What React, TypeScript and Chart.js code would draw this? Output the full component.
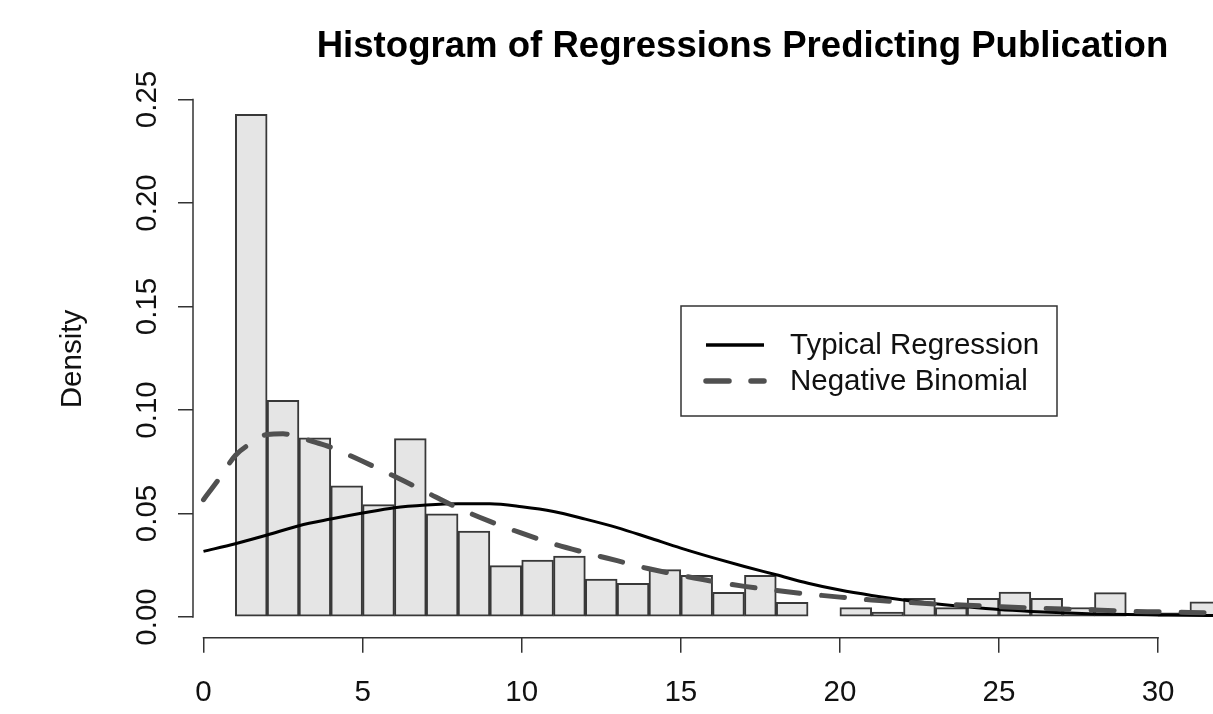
import React, { useEffect, useRef } from "react";
import { Chart, registerables } from "chart.js";

Chart.register(...registerables);

// ---- data ----
const binStarts = [1, 2, 3, 4, 5, 6, 7, 8, 9, 10, 11, 12, 13, 14, 15, 16, 17, 18, 19, 20, 21, 22, 23, 24, 25, 26, 27, 28, 29, 30, 31];
const binDensity = [
  0.2428, 0.1047, 0.0865, 0.0634, 0.0543, 0.0862, 0.0498, 0.0415, 0.0248, 0.0275,
  0.0294, 0.0183, 0.0163, 0.0229, 0.0201, 0.0119, 0.0201, 0.0071, 0.0, 0.0045,
  0.0024, 0.0090, 0.0045, 0.0090, 0.0120, 0.0090, 0.0046, 0.0118, 0.0, 0.0020, 0.0073,
];

const typicalX = [0, 1, 2, 3, 4, 5, 6, 7, 8, 9, 10, 11, 12, 13, 14, 15, 16, 17, 18, 19, 20, 21, 22, 23, 24, 25, 26, 27, 28, 29, 30, 31, 32];
const typicalY = [
  0.0317, 0.0354, 0.0396, 0.0441, 0.0473, 0.0502, 0.0528, 0.0541, 0.0547, 0.0547,
  0.0533, 0.0510, 0.0473, 0.0432, 0.0383, 0.0333, 0.0287, 0.0244, 0.0204, 0.0163,
  0.0130, 0.0104, 0.0082, 0.0064, 0.0049, 0.0036, 0.0027, 0.0020, 0.0015, 0.0012,
  0.0010, 0.0008, 0.0007,
];

const negbinX = [0, 0.5, 1, 1.5, 2, 2.5, 3, 3.5, 4, 5, 6, 7, 8, 9, 10, 11, 12, 13, 14, 15, 16, 17, 18, 19, 20, 21, 22, 23, 24, 25, 26, 27, 28, 29, 30, 31, 32];
const negbinY = [
  0.0567, 0.0670, 0.0780, 0.0840, 0.0882, 0.0885, 0.0868, 0.0845, 0.0820, 0.0752,
  0.0680, 0.0603, 0.0527, 0.0462, 0.0405, 0.0353, 0.0311, 0.0272, 0.0233, 0.0201,
  0.0172, 0.0148, 0.0128, 0.0111, 0.0096, 0.0082, 0.0072, 0.0063, 0.0057, 0.0050,
  0.0044, 0.0039, 0.0034, 0.0028, 0.0025, 0.0022, 0.0020,
];

const xTicks = [0, 5, 10, 15, 20, 25, 30];
const yTicks = [0, 0.05, 0.1, 0.15, 0.2, 0.25];
const seriesLabels = ["Typical Regression", "Negative Binomial"];
const titleText = "Histogram of Regressions Predicting Publication";
const yTitle = "Density";

const FONT = "'Liberation Sans', Arial, Helvetica, sans-serif";
const AXIS_COLOR = "#333333";
const TEXT_SIZE = 29.5;

// R-style axis lines that span only the tick range
const rAxesPlugin = {
  id: "rAxes",
  afterDraw(chart: any) {
    const { ctx, chartArea, scales } = chart;
    const xs = scales.x;
    const ys = scales.y;
    ctx.save();
    ctx.strokeStyle = AXIS_COLOR;
    ctx.lineWidth = 1.5;
    ctx.lineCap = "butt";
    ctx.beginPath();
    const yb = chartArea.bottom;
    ctx.moveTo(xs.getPixelForValue(xTicks[0]) - 0.75, yb);
    ctx.lineTo(xs.getPixelForValue(xTicks[xTicks.length - 1]) + 0.75, yb);
    const xl = chartArea.left;
    ctx.moveTo(xl, ys.getPixelForValue(yTicks[0]) + 0.75);
    ctx.lineTo(xl, ys.getPixelForValue(yTicks[yTicks.length - 1]) - 0.75);
    ctx.stroke();
    ctx.restore();
  },
};

// boxed legend inside the plot, R legend() style
const boxLegendPlugin = {
  id: "boxLegend",
  afterDraw(chart: any) {
    const { ctx } = chart;
    const box = { x: 681, y: 306, w: 376, h: 110 };
    ctx.save();
    ctx.fillStyle = "#ffffff";
    ctx.fillRect(box.x, box.y, box.w, box.h);
    ctx.strokeStyle = AXIS_COLOR;
    ctx.lineWidth = 1.5;
    ctx.strokeRect(box.x, box.y, box.w, box.h);
    const rows = [345, 381];
    seriesLabels.forEach((label, i) => {
      const ds = chart.data.datasets.find((d: any) => d.label === label);
      if (!ds) return;
      const yy = rows[i];
      ctx.save();
      ctx.strokeStyle = ds.borderColor;
      ctx.lineWidth = ds.borderWidth + 0.5;
      ctx.lineCap = ds.borderCapStyle || "butt";
      ctx.setLineDash(ds.borderDash || []);
      ctx.beginPath();
      ctx.moveTo(706, yy);
      ctx.lineTo(764, yy);
      ctx.stroke();
      ctx.restore();
      ctx.fillStyle = "#111111";
      ctx.font = `${TEXT_SIZE}px ${FONT}`;
      ctx.textAlign = "left";
      ctx.textBaseline = "middle";
      ctx.fillText(label, 790, yy + 1);
    });
    ctx.restore();
  },
};

export default function App() {
  const canvasRef = useRef<HTMLCanvasElement | null>(null);

  useEffect(() => {
    if (!canvasRef.current) return;
    const pxPerX = 31.82;
    const x0px = 203.5;
    const left = 193;
    const right = 1292;
    const xMin = (left - x0px) / pxPerX;
    const xMax = (right - x0px) / pxPerX;

    const pxPerY = 2070;
    const bottom = 637.7;
    const top = 80.4;
    const yMin = -0.01;
    const yMax = yMin + (bottom - top) / pxPerY;
    const titleSize = 36.6;
    const titleLine = titleSize * 1.2;
    const titlePadTop = 25;

    const chart = new Chart(canvasRef.current, {
      type: "line",
      data: {
        datasets: [
          {
            type: "line",
            label: seriesLabels[1],
            data: negbinX.map((x, i) => ({ x, y: negbinY[i] })),
            borderColor: "#505050",
            borderWidth: 5,
            borderDash: [23, 22],
            borderCapStyle: "round",
            pointRadius: 0,
            fill: false,
            cubicInterpolationMode: "monotone",
            order: 0,
          } as any,
          {
            type: "line",
            label: seriesLabels[0],
            data: typicalX.map((x, i) => ({ x, y: typicalY[i] })),
            borderColor: "#000000",
            borderWidth: 3,
            pointRadius: 0,
            fill: false,
            cubicInterpolationMode: "monotone",
            order: 1,
          } as any,
          {
            type: "bar",
            label: "Histogram",
            data: binStarts.map((s, i) => ({ x: s + 0.5, y: binDensity[i] })),
            backgroundColor: "#e5e5e5",
            borderColor: "#383838",
            borderWidth: 2,
            borderSkipped: false,
            barPercentage: 1,
            categoryPercentage: 1,
            grouped: false,
            order: 2,
          } as any,
        ],
      },
      options: {
        animation: false,
        responsive: false,
        maintainAspectRatio: false,
        devicePixelRatio: 1,
        layout: { padding: 0 },
        events: [],
        plugins: {
          legend: { display: false },
          tooltip: { enabled: false },
          title: {
            display: true,
            text: titleText,
            fullSize: false,
            color: "#000000",
            font: { family: FONT, size: titleSize, weight: "bold" },
            padding: { top: titlePadTop, bottom: top - titlePadTop - titleLine },
          },
        },
        scales: {
          x: {
            type: "linear",
            min: xMin,
            max: xMax,
            offset: false,
            afterBuildTicks: (s: any) => {
              s.ticks = xTicks.map((v) => ({ value: v }));
            },
            afterFit: (s: any) => {
              s.height = 714 - bottom;
            },
            grid: {
              display: true,
              drawOnChartArea: false,
              drawTicks: true,
              tickLength: 15,
              color: AXIS_COLOR,
              lineWidth: 1.5,
              offset: false,
            },
            border: { display: false },
            ticks: {
              autoSkip: false,
              maxRotation: 0,
              minRotation: 0,
              padding: 22,
              color: "#111111",
              font: { family: FONT, size: TEXT_SIZE },
              callback: (v: any) => String(v),
            },
          },
          y: {
            type: "linear",
            min: yMin,
            max: yMax,
            afterBuildTicks: (s: any) => {
              s.ticks = yTicks.map((v) => ({ value: v }));
            },
            afterFit: (s: any) => {
              s.width = left;
            },
            grid: {
              display: true,
              drawOnChartArea: false,
              drawTicks: true,
              tickLength: 15,
              color: AXIS_COLOR,
              lineWidth: 1.5,
            },
            border: { display: false },
            ticks: {
              autoSkip: false,
              minRotation: 90,
              maxRotation: 90,
              crossAlign: "center",
              padding: 1,
              color: "#111111",
              font: { family: FONT, size: TEXT_SIZE },
              callback: (v: any) => Number(v).toFixed(2),
            },
            title: {
              display: true,
              text: yTitle,
              color: "#111111",
              font: { family: FONT, size: TEXT_SIZE },
              padding: { top: 55, bottom: 0 },
            },
          },
        },
      } as any,
      plugins: [rAxesPlugin, boxLegendPlugin],
    });
    return () => chart.destroy();
  }, []);

  return (
    <div
      style={{
        position: "fixed",
        left: 0,
        top: 0,
        width: 1213,
        height: 714,
        overflow: "hidden",
        background: "#ffffff",
      }}
    >
      <canvas
        ref={canvasRef}
        width={1292}
        height={714}
        style={{ display: "block", width: 1292, height: 714 }}
      />
    </div>
  );
}
